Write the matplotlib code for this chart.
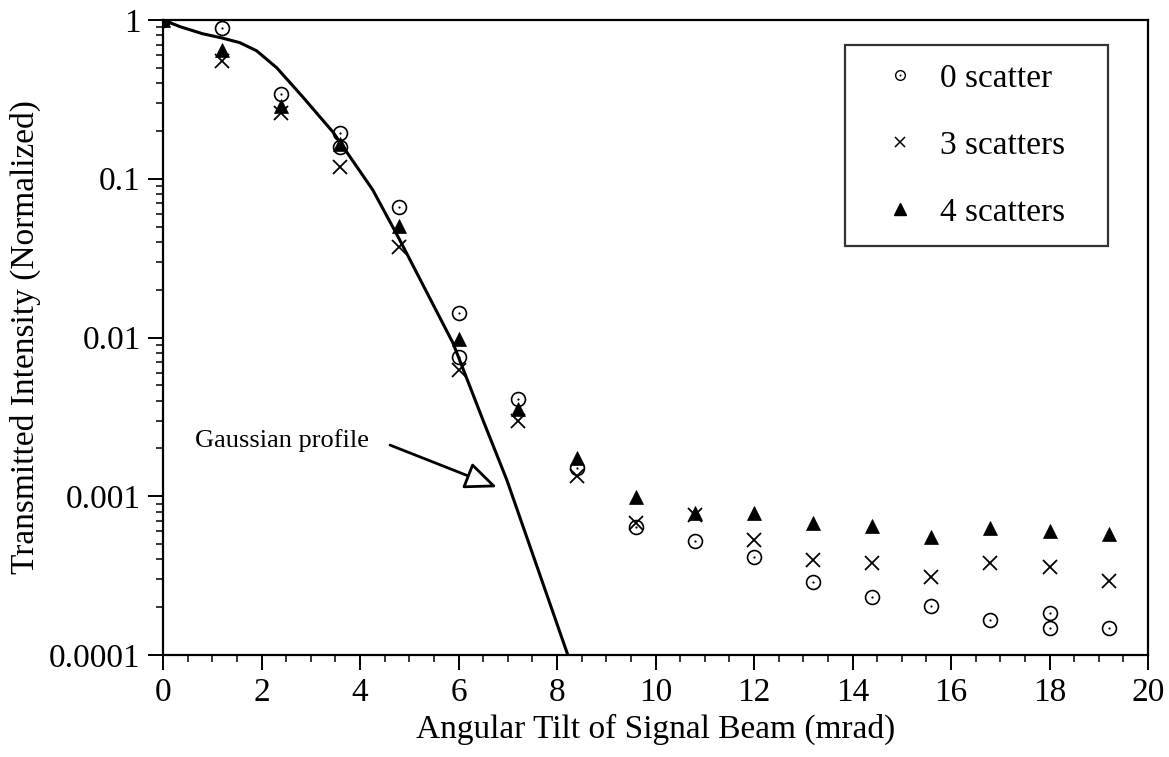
import matplotlib
matplotlib.use("Agg")
import matplotlib.pyplot as plt
from matplotlib.lines import Line2D
from matplotlib.legend_handler import HandlerTuple
from matplotlib.ticker import MultipleLocator, LogLocator, NullFormatter, FixedLocator, FixedFormatter

plt.rcParams['font.family'] = ['Liberation Serif', 'DejaVu Serif']

# measured transmitted intensity vs. tilt angle (mrad)
zero_x = [0, 1.2, 2.4, 3.6, 3.6, 4.8, 6.0, 6.0, 7.2, 8.4, 9.6, 10.8, 12.0,
          13.2, 14.4, 15.6, 16.8, 18.0, 18.0, 19.2]
zero_y = [1.0, 0.89, 0.342, 0.194, 0.158, 0.0664, 0.0143, 0.00753, 0.0041,
          0.00151, 0.00064, 0.000522, 0.000414, 0.000288, 0.000232, 0.000204,
          0.000166, 0.000184, 0.000148, 0.000148]

scatter_x = [0, 1.2, 2.4, 3.6, 4.8, 6.0, 7.2, 8.4, 9.6, 10.8, 12.0, 13.2,
             14.4, 15.6, 16.8, 18.0, 19.2]
three_y = [1.0, 0.552, 0.260, 0.1186, 0.0372, 0.00624, 0.00298, 0.00134,
           0.00068, 0.00076, 0.00053, 0.000397, 0.00038, 0.00031, 0.00038,
           0.000358, 0.000292]
four_y = [1.0, 0.647, 0.287, 0.166, 0.0504, 0.0098, 0.00355, 0.00174,
          0.00099, 0.00078, 0.00079, 0.00068, 0.00065, 0.000554, 0.00063,
          0.00060, 0.000578]

# Gaussian beam profile curve
gauss_x = [0, 0.35, 0.8, 1.2, 1.56, 1.9, 2.31, 2.84, 3.45, 4.26, 4.81, 5.89,
           6.5, 6.98, 8.22]
gauss_y = [1.0, 0.907, 0.82, 0.77, 0.72, 0.64, 0.50, 0.327, 0.197, 0.085,
           0.041, 0.0092, 0.0030, 0.00127, 0.0001]

y_ticks = [1e-4, 1e-3, 1e-2, 1e-1, 1]
y_tick_labels = ['0.0001', '0.001', '0.01', '0.1', '1']

FS = 24

fig = plt.figure(figsize=(11.69, 7.57), dpi=100)
ax = fig.add_axes([163 / 1169, 102 / 757, 985 / 1169, 635 / 757])

ax.plot(gauss_x, gauss_y, color='black', lw=2.2, zorder=2)

ax.plot(zero_x, zero_y, ls='none', marker='o', ms=10, mfc='none',
        mec='black', mew=1.2, zorder=3)
ax.plot(zero_x, zero_y, ls='none', marker='o', ms=1.6, mfc='black',
        mec='black', mew=0, zorder=3)
ax.plot(scatter_x, three_y, ls='none', marker='x', ms=10, mec='black',
        mew=1.3, zorder=3)
ax.plot(scatter_x, four_y, ls='none', marker='^', ms=10.5, mfc='black',
        mec='black', mew=0.5, zorder=3)

ax.set_yscale('log')
ax.set_xlim(0, 20)
ax.set_ylim(1e-4, 1)

ax.xaxis.set_major_locator(MultipleLocator(2))
ax.xaxis.set_minor_locator(MultipleLocator(0.5))
ax.yaxis.set_major_locator(FixedLocator(y_ticks))
ax.yaxis.set_major_formatter(FixedFormatter(y_tick_labels))
ax.yaxis.set_minor_locator(LogLocator(base=10, subs=range(2, 10)))
ax.yaxis.set_minor_formatter(NullFormatter())

ax.tick_params(which='major', direction='out', length=11, width=1.4,
               labelsize=FS, pad=5)
ax.tick_params(which='minor', direction='out', length=5, width=1.1)
ax.tick_params(top=False, right=False, which='both')
for s in ax.spines.values():
    s.set_linewidth(1.6)

ax.set_xlabel('Angular Tilt of Signal Beam (mrad)', fontsize=FS, labelpad=4)
ax.set_ylabel('Transmitted Intensity (Normalized)', fontsize=FS, labelpad=6)

ax.text(0.65, 0.00226, 'Gaussian profile', fontsize=19, ha='left',
        va='center')
ax.annotate('', xy=(6.78, 0.00114), xytext=(4.61, 0.0021),
            arrowprops=dict(arrowstyle='-|>,head_length=0.7,head_width=0.3',
                            mutation_scale=28, fc='white', ec='black',
                            lw=2.0, shrinkA=0, shrinkB=0))

h_circ = Line2D([], [], ls='none', marker='o', ms=7, mfc='none',
                mec='black', mew=1.0)
h_dot = Line2D([], [], ls='none', marker='o', ms=1.4, mfc='black', mew=0)
h_x = Line2D([], [], ls='none', marker='x', ms=7, mec='black', mew=1.1)
h_tri = Line2D([], [], ls='none', marker='^', ms=8, mfc='black',
               mec='black')
leg = ax.legend([(h_circ, h_dot), h_x, h_tri],
                ['0 scatter', '3 scatters', '4 scatters'],
                handler_map={tuple: HandlerTuple(ndivide=1)},
                loc='upper left', bbox_to_anchor=(0.692, 0.646, 0.267, 0.315),
                mode='expand', fontsize=FS, frameon=True, fancybox=False,
                borderpad=0.55, labelspacing=1.1, handlelength=2.2,
                handletextpad=0.1, borderaxespad=0)
leg.get_frame().set_edgecolor('black')
leg.get_frame().set_linewidth(1.6)

fig.savefig('out.png', dpi=100)
